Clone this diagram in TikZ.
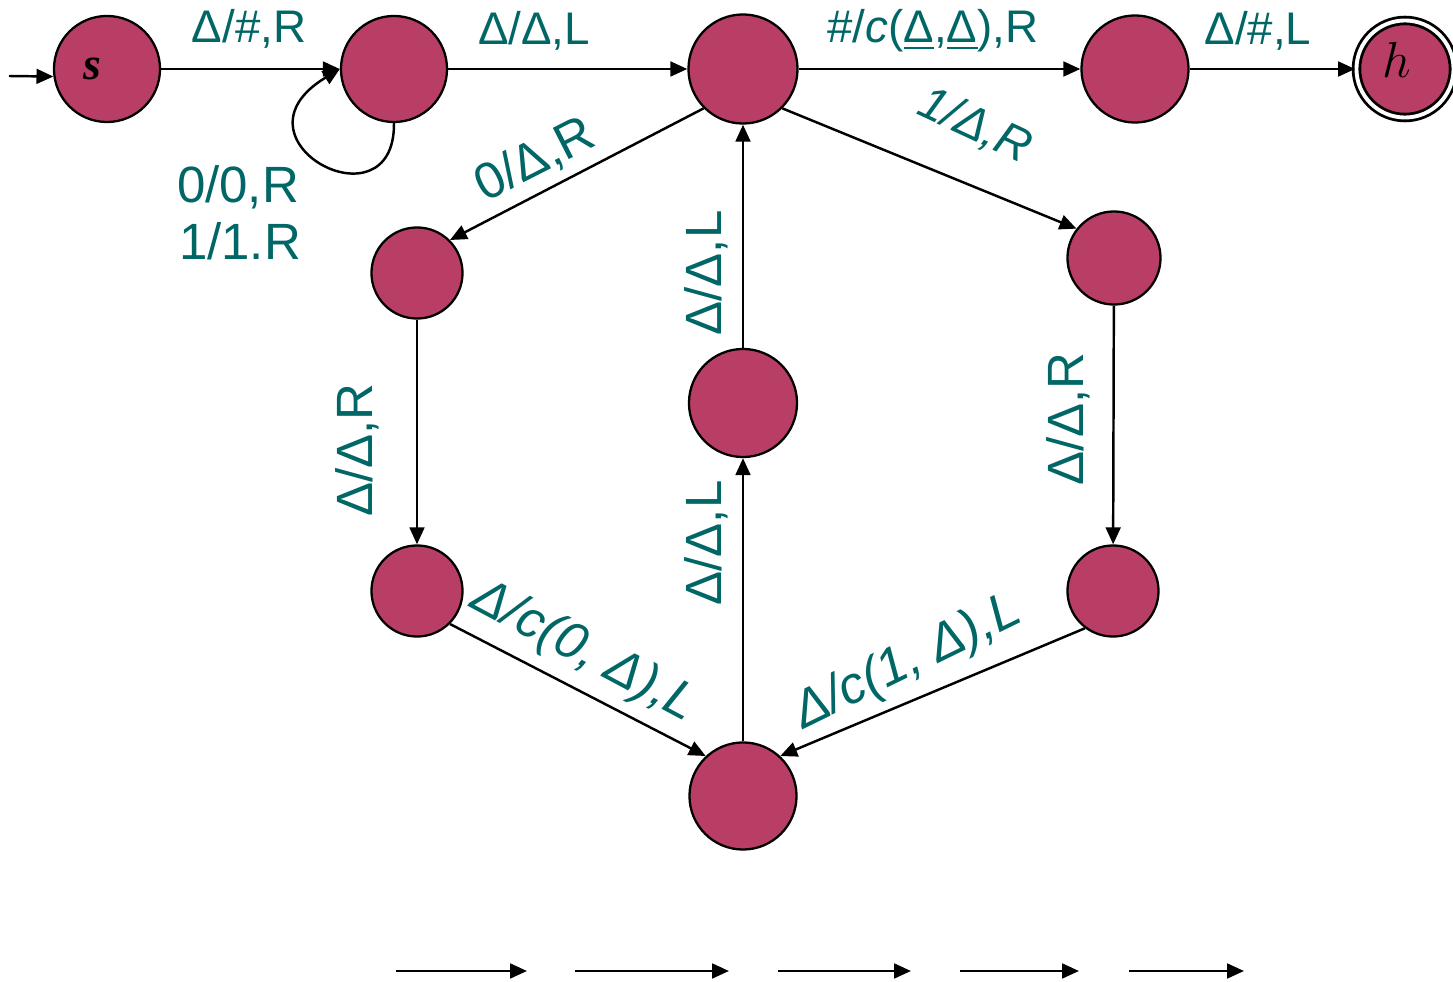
\documentclass[tikz,border=0pt]{standalone}
\usepackage{fontspec}
\setmainfont{Liberation Sans}
\newfontfamily\statefont{Liberation Serif}
\usetikzlibrary{arrows.meta}
\definecolor{nodefill}{RGB}{184,62,102}
\definecolor{lab}{RGB}{0,102,102}
\begin{document}
\begin{tikzpicture}[x=0.01cm,y=-0.01cm,
  st/.style={circle,draw=black,fill=nodefill,line width=0.65pt,minimum size=#1,inner sep=0pt},
  edge/.style={line width=0.7pt,-{Triangle[length=4.8pt,width=4.2pt]}},
  lbl/.style={text=lab,inner sep=0pt,font=\fontsize{14.5}{17}\selectfont},
  ilbl/.style={text=lab,inner sep=0pt,font=\fontsize{14.8}{17}\selectfont\itshape},
  toplbl/.style={text=lab,inner sep=0pt,anchor=base,font=\fontsize{13}{15}\selectfont}]
\useasboundingbox (0,0) rectangle (1453,982);

% states
\node[st=1.06cm] (s) at (107,69) {};
\node[anchor=base,inner sep=0pt,font=\statefont\bfseries\itshape\fontsize{13}{13}\selectfont] (stext) at (92,80) {s};
\node[st=1.06cm] (q1) at (394,69) {};
\node[st=1.09cm] (q2) at (743,69) {};
\node[st=1.07cm] (q3) at (1135,69) {};
\node[st=0.97cm,line width=0.8pt,double=white,double distance=1.1pt] (h) at (1405,69) {};
\node[anchor=base,inner sep=0pt,font=\fontsize{15}{15}\selectfont] (htext) at (1397,78) {$h$};
\node[st=0.91cm] (q4) at (417,273) {};
\node[st=0.93cm] (q5) at (1114,258) {};
\node[st=1.08cm] (q6) at (743,403) {};
\node[st=0.91cm] (q7) at (417,591) {};
\node[st=0.91cm] (q8) at (1113,591) {};
\node[st=1.07cm] (q9) at (743,796) {};

% connectors
\coordinate (init) at (9,76);
\draw[edge] (init) -- (s.188);
\draw[edge] (s) -- (q1);
\draw[edge] (q1.south) .. controls (395,232) and (222,140) .. (q1.west);
\draw[edge] (q1) -- (q2);
\draw[edge] (q2) -- (q3);
\draw[edge] (q3) -- (h);
\draw[edge] (q2.225) -- (q4.45);
\draw[edge] (q2.-45) -- (q5.142);
\draw[edge] (q4) -- (q7);
\draw[edge] (q7.-45) -- (q9.133);
\draw[edge] (q8.233) -- (q9.47);
\draw[edge] (q9) -- (q6);
\draw[edge] (q6) -- (q2);
\draw[edge] (q5) -- (q8);

% labels
\node[toplbl] (l1) at (249,43) {Δ/\#,R};
\node[toplbl] (l2) at (534,45) {Δ/Δ,L};
\node[toplbl] (l3) at (933,43) {\#/\textit{c}(\underline{Δ},\underline{Δ}),R};
\node[toplbl] (l4) at (1258,45) {Δ/\#,L};
\node[lbl,anchor=base] (l5a) at (238,203) {0/0,R};
\node[lbl,anchor=base] (l5b) at (240,260) {1/1.R};
\node[lbl,rotate=27] (l6) at (535,160) {0/Δ,R};
\node[ilbl,rotate=-25,font=\fontsize{13.5}{16}\selectfont\itshape] (l7) at (975,126) {1/Δ,R};
\node[lbl,rotate=90] (l8) at (706,273) {Δ/Δ,L};
\node[lbl,rotate=90] (l9) at (706,543) {Δ/Δ,L};
\node[lbl,rotate=90] (l10) at (357,450) {Δ/Δ,R};
\node[lbl,rotate=90] (l11) at (1068,419) {Δ/Δ,R};
\node[ilbl,rotate=-28] (l12) at (584,652) {Δ/c(0, Δ),L};
\node[ilbl,rotate=26] (l13) at (908,663) {Δ/c(1, Δ),L};

% bottom arrows
\coordinate (b1s) at (396,971); \coordinate (b1e) at (527,971);
\coordinate (b2s) at (575,971); \coordinate (b2e) at (729,971);
\coordinate (b3s) at (778,971); \coordinate (b3e) at (911,971);
\coordinate (b4s) at (960,971); \coordinate (b4e) at (1079,971);
\coordinate (b5s) at (1129,971); \coordinate (b5e) at (1244,971);
\draw[edge] (b1s) -- (b1e);
\draw[edge] (b2s) -- (b2e);
\draw[edge] (b3s) -- (b3e);
\draw[edge] (b4s) -- (b4e);
\draw[edge] (b5s) -- (b5e);
\end{tikzpicture}
\end{document}
